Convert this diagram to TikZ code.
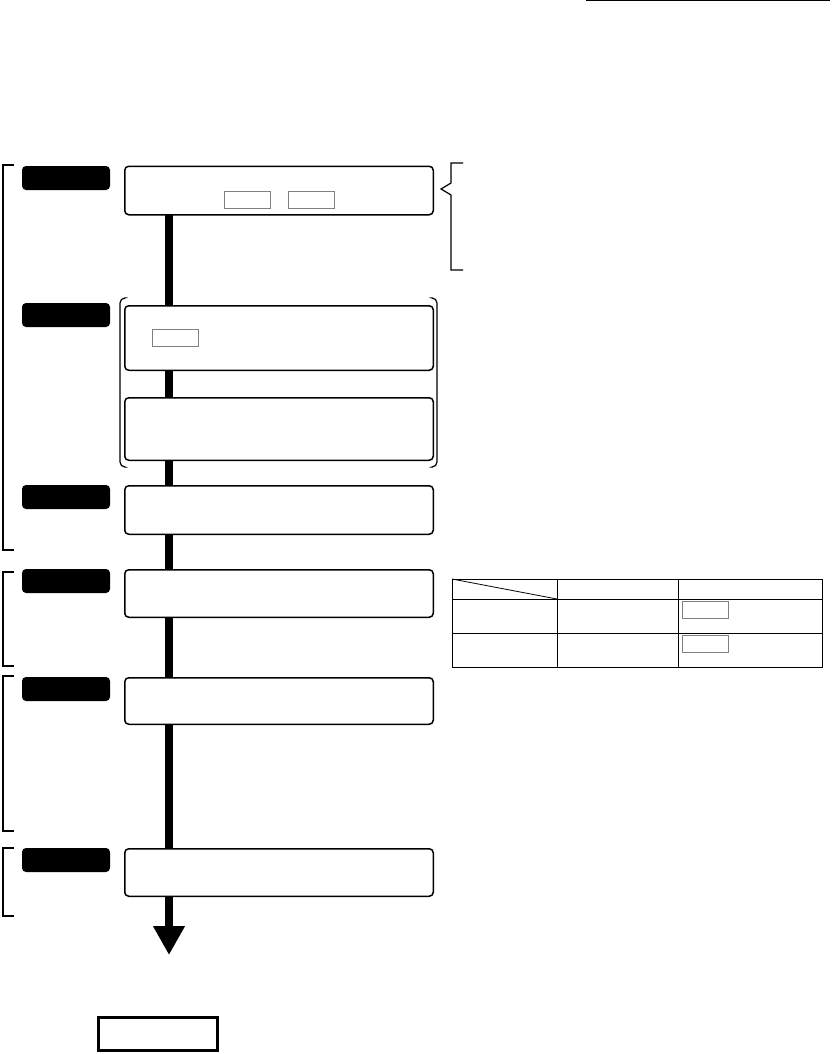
\documentclass[tikz,border=0pt]{standalone}
\usetikzlibrary{positioning,arrows.meta}
\begin{document}
\begin{tikzpicture}[x=1pt,y=-1pt,
  stepbox/.style={draw,line width=1.5pt,rounded corners=4pt,minimum width=308.5pt,inner sep=0pt,outer sep=0pt,fill=white},
  tag/.style={fill=black,rounded corners=4pt,minimum width=88pt,minimum height=24pt,inner sep=0pt},
  keybox/.style={draw=gray,line width=0.8pt,minimum width=46pt,minimum height=17pt,inner sep=0pt},
  spine/.style={line width=7.5pt},
  bracket/.style={line width=2pt}]
  \useasboundingbox (0,0) rectangle (835,1054);
  \draw[line width=1pt] (586,0.8) -- (830,0.8);
  \coordinate (sp) at (169,0);
  % steps
  \node[stepbox,minimum height=48.5pt] (b1) at (279,190.5) {};
  \node[stepbox,minimum height=64.5pt] (b2a) at (279,338) {};
  \node[stepbox,minimum height=62.5pt] (b2b) at (279,429) {};
  \node[stepbox,minimum height=48.5pt] (b3) at (279,510) {};
  \node[stepbox,minimum height=47.5pt] (b4) at (279,593.5) {};
  \node[stepbox,minimum height=46.5pt] (b5) at (279,701) {};
  \node[stepbox,minimum height=47.5pt] (b6) at (279,872.5) {};
  \coordinate (end) at (169,955);
  % spine
  \draw[spine] (b1.south -| sp) -- (b2a.north -| sp);
  \draw[spine] (b2a.south -| sp) -- (b2b.north -| sp);
  \draw[spine] (b2b.south -| sp) -- (b3.north -| sp);
  \draw[spine] (b3.south -| sp) -- (b4.north -| sp);
  \draw[spine] (b4.south -| sp) -- (b5.north -| sp);
  \draw[spine] (b5.south -| sp) -- (b6.north -| sp);
  \draw[spine,-{Triangle[length=29pt,width=30pt]}] (b6.south -| sp) -- (end);
  % tags
  \node[tag] (t1) at (66,178) {};
  \node[tag] (t2) at (66,315) {};
  \node[tag] (t3) at (66,497) {};
  \node[tag] (t4) at (66,581) {};
  \node[tag] (t5) at (66,689) {};
  \node[tag] (t6) at (66,860) {};
  % keys
  \node[keybox] (k1) at (247,199.5) {};
  \node[keybox] (k2) at (311,199.5) {};
  \node[keybox] (k3) at (175.5,337.5) {};
  % brackets
  \draw[bracket] (14,165) -| (3,550) -- (14,550);
  \draw[bracket] (14,572) -| (3,666) -- (14,666);
  \draw[bracket] (14,676) -| (3,831) -- (14,831);
  \draw[bracket] (14,848) -| (3,916) -- (14,916);
  \draw[line width=1.2pt,rounded corners=5pt] (124,298) -- (120,298) -- (120,467) -- (124,467);
  \draw[line width=1.2pt,rounded corners=5pt] (433,298) -- (437,298) -- (437,467) -- (433,467);
  \draw[line width=1.2pt] (463,163) -- (451,163) -- (451,183) -- (441,189) -- (451,195) -- (451,270) -- (463,270);
  % table
  \draw[line width=1pt] (452,579) rectangle (822,667);
  \draw[line width=1pt] (452,599) -- (822,599) (452,633) -- (822,633);
  \draw[line width=1pt] (557,579) -- (557,667) (678,579) -- (678,667);
  \draw[line width=0.8pt] (452,579) -- (557,599);
  \node[keybox] (k4) at (705,609.5) {};
  \node[keybox] (k5) at (705,643.5) {};
  % note
  \node[draw,line width=3pt,minimum width=119pt,minimum height=33pt,inner sep=0pt] (nb) at (158,1034) {};
\end{tikzpicture}
\end{document}
